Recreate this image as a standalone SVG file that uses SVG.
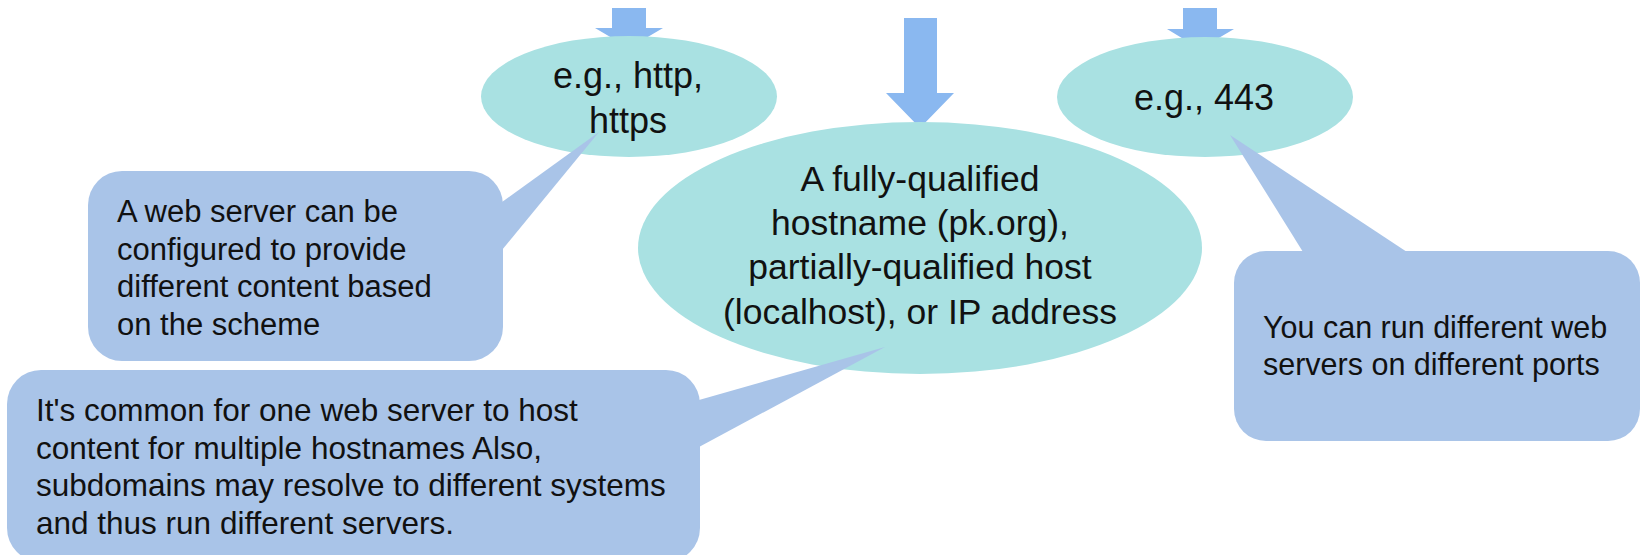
<svg xmlns="http://www.w3.org/2000/svg" width="1641" height="555" viewBox="0 0 1641 555">
  <style>
    .ell { fill: #A9E1E2; }
    .call { fill: #A9C4E8; }
    .arr { fill: #8AB8F0; }
    .t { font-family: "Liberation Sans", Arial, Helvetica, sans-serif; fill: #111; }
    .te { font-size: 36px; text-anchor: middle; }
    .tc { font-size: 31px; }
  </style>
  <rect width="1641" height="555" fill="#fff"/>

  <g id="connectors">
    <polygon class="arr" points="612,8 646,8 646,28 663,28 629,48 595,28 612,28"/>
    <polygon class="arr" points="904,18 937,18 937,93 954,93 920,128 886,93 904,93"/>
    <polygon class="arr" points="1183,8 1217,8 1217,29 1234,29 1200,49 1167,29 1183,29"/>
  </g>

  <g id="scheme">
    <ellipse class="ell" cx="629" cy="96.5" rx="148" ry="60.5"/>
    <text class="t te" x="628" y="88">e.g., http,</text>
    <text class="t te" x="628" y="133">https</text>
  </g>

  <g id="host">
    <ellipse class="ell" cx="920" cy="248" rx="282" ry="126"/>
    <text class="t te" x="920" y="191" style="font-size:35.5px">A fully-qualified</text>
    <text class="t te" x="920" y="235" style="font-size:35.5px">hostname (pk.org),</text>
    <text class="t te" x="920" y="279" style="font-size:35.5px">partially-qualified host</text>
    <text class="t te" x="920" y="324" style="font-size:35.5px">(localhost), or IP address</text>
  </g>

  <g id="port">
    <ellipse class="ell" cx="1205" cy="97" rx="148" ry="60"/>
    <text class="t te" x="1204" y="110">e.g., 443</text>
  </g>

  <g id="callout-scheme">
    <rect class="call" x="88" y="171" width="415" height="190" rx="34" ry="34"/>
    <polygon class="call" points="502,202 599,132 502,250"/>
    <text class="t tc" x="117" y="222">A web server can be</text>
    <text class="t tc" x="117" y="259.5">configured to provide</text>
    <text class="t tc" x="117" y="297">different content based</text>
    <text class="t tc" x="117" y="334.5">on the scheme</text>
  </g>

  <g id="callout-host">
    <rect class="call" x="7" y="370" width="693" height="192" rx="34" ry="34"/>
    <polygon class="call" points="699,400 885,347 699,447"/>
    <text class="t tc" x="36" y="421" style="font-size:31.5px">It's common for one web server to host</text>
    <text class="t tc" x="36" y="458.5" style="font-size:31.5px">content for multiple hostnames Also,</text>
    <text class="t tc" x="36" y="496" style="font-size:31.5px">subdomains may resolve to different systems</text>
    <text class="t tc" x="36" y="533.5" style="font-size:31.5px">and thus run different servers.</text>
  </g>

  <g id="callout-port">
    <rect class="call" x="1234" y="251" width="406" height="190" rx="32" ry="32"/>
    <polygon class="call" points="1303,252 1230,135 1407,252"/>
    <text class="t tc" x="1263" y="338" style="font-size:30.5px">You can run different web</text>
    <text class="t tc" x="1263" y="375" style="font-size:30.5px">servers on different ports</text>
  </g>
</svg>
